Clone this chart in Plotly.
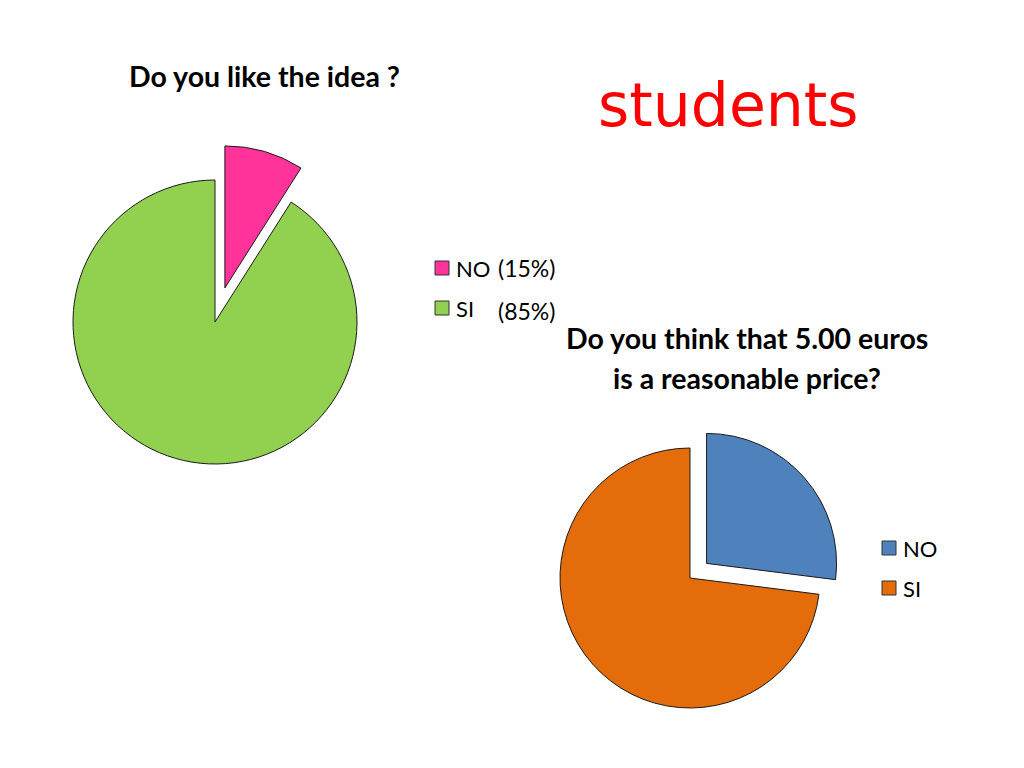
import plotly.graph_objects as go

W, H = 1024, 768
OFF = 8  # page margin around the plot div

# chart 1: "Do you like the idea ?"
idea_labels = ["NO", "SI"]
idea_values = [9, 91]
idea_pct_text = ["(15%)", "(85%)"]
idea_colors = ["#ff3399", "#92d050"]

# chart 2: "Do you think that 5.00 euros is a reasonable price?"
price_labels = ["NO", "SI"]
price_values = [27, 73]
price_colors = ["#4f81bd", "#e46c0a"]

FONT = "Lato"


def px(x, y):
    return (x - OFF) / W, 1 - (y - OFF) / H


def dom(cx, cy, r, pull):
    half = r * (1 + pull)
    x0, y1 = px(cx - half, cy - half)
    x1, y0 = px(cx + half, cy + half)
    return dict(x=[x0, x1], y=[y0, y1])


fig = go.Figure()

fig.add_trace(go.Pie(
    labels=idea_labels,
    values=idea_values,
    marker=dict(colors=idea_colors, line=dict(color="#1a1a1a", width=1)),
    pull=[0.25, 0],
    sort=False,
    direction="clockwise",
    rotation=0,
    textinfo="none",
    showlegend=False,
    domain=dom(215, 322, 142, 0.25),
))

fig.add_trace(go.Pie(
    labels=price_labels,
    values=price_values,
    marker=dict(colors=price_colors, line=dict(color="#1a1a1a", width=1)),
    pull=[0.17, 0],
    sort=False,
    direction="clockwise",
    rotation=0,
    textinfo="none",
    showlegend=False,
    domain=dom(690, 578, 130, 0.17),
))

annotations = []
shapes = []


def text(x, y, s, size, color="#000000", bold=False, anchor="left", family=FONT):
    ax, ay = px(x, y)
    if bold:
        s = "<b>" + s + "</b>"
    annotations.append(dict(
        x=ax, y=ay, xref="paper", yref="paper", text=s, showarrow=False,
        xanchor=anchor, yanchor="middle",
        font=dict(family=family, size=size, color=color),
    ))


def legend(x, y, labels, colors, gap=40):
    for i, (lab, col) in enumerate(zip(labels, colors)):
        yy = y + i * gap
        x0, y0 = px(x, yy + 7)
        x1, y1 = px(x + 14, yy - 7)
        shapes.append(dict(type="rect", xref="paper", yref="paper",
                           x0=x0, x1=x1, y0=y0, y1=y1,
                           fillcolor=col, line=dict(color="#333333", width=1)))
        text(x + 19, yy, lab, 22)


text(264, 76, "Do you like the idea ?", 28.5, bold=True, anchor="center")
text(728, 105, "students", 60, color="#ff0000", anchor="center", family="DejaVu Sans")

legend(435, 268, idea_labels, idea_colors)
text(496, 268, idea_pct_text[0], 23)
text(496, 311, idea_pct_text[1], 23)

text(747, 338, "Do you think that 5.00 euros", 28.5, bold=True, anchor="center")
text(747, 378, "is a reasonable price?", 28.5, bold=True, anchor="center")

legend(882, 548, price_labels, price_colors)

fig.update_layout(
    width=W, height=H,
    margin=dict(l=0, r=0, t=0, b=0),
    paper_bgcolor="white",
    plot_bgcolor="white",
    annotations=annotations,
    shapes=shapes,
)

fig.write_html("out.html")
